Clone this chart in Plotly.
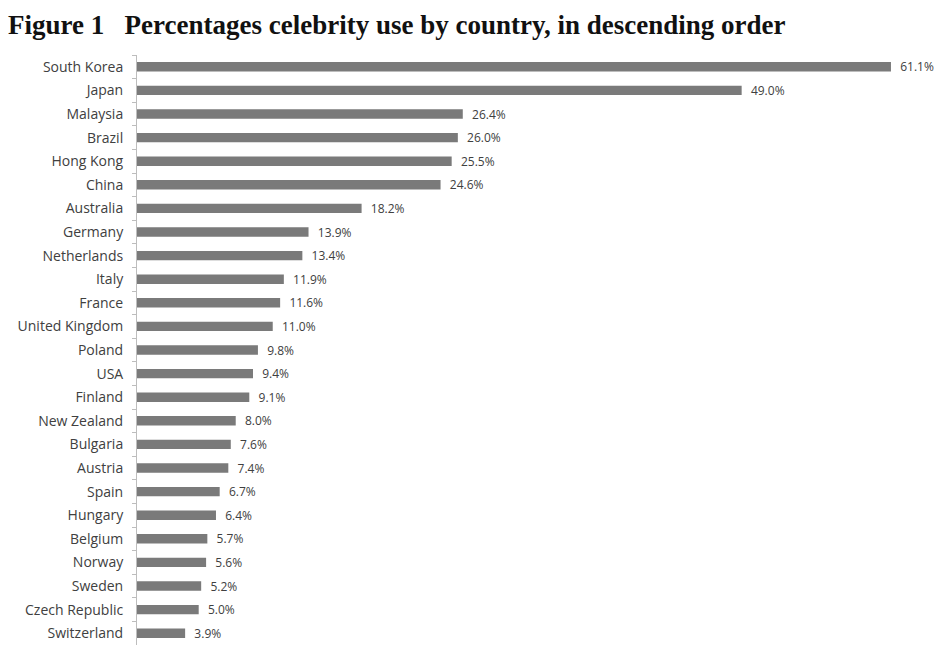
import plotly.graph_objects as go

countries = ["South Korea", "Japan", "Malaysia", "Brazil", "Hong Kong", "China", "Australia",
             "Germany", "Netherlands", "Italy", "France", "United Kingdom", "Poland", "USA",
             "Finland", "New Zealand", "Bulgaria", "Austria", "Spain", "Hungary", "Belgium",
             "Norway", "Sweden", "Czech Republic", "Switzerland"]
values = [61.1, 49.0, 26.4, 26.0, 25.5, 24.6, 18.2, 13.9, 13.4, 11.9, 11.6, 11.0, 9.8, 9.4,
          9.1, 8.0, 7.6, 7.4, 6.7, 6.4, 5.7, 5.6, 5.2, 5.0, 3.9]
labels = ["  %.1f%%" % v for v in values]

fig = go.Figure(go.Bar(
    x=values, y=countries, orientation="h",
    marker=dict(color="#7a7a7a", line=dict(width=0)),
    width=0.4,
    text=labels, textposition="outside", cliponaxis=False, constraintext="none",
    textfont=dict(family="Open Sans", size=12, color="#404040"),
    hoverinfo="skip",
))

fig.update_layout(
    width=947, height=645,
    margin=dict(l=137, r=0, t=55, b=0),
    paper_bgcolor="white", plot_bgcolor="white",
    showlegend=False,
    title=dict(
        text="Figure 1\u00a0\u00a0\u00a0Percentages celebrity use by country, in descending order",
        x=8/947, xanchor="left", xref="container",
        y=1-25/645, yanchor="middle", yref="container",
        font=dict(family="Liberation Serif", size=27, color="#111111", weight="bold"),
    ),
    xaxis=dict(range=[0, 810/12.34], visible=False, showgrid=False, zeroline=False),
    yaxis=dict(
        autorange="reversed", showgrid=False, zeroline=False,
        showline=True, linecolor="#bdbdbd", linewidth=1,
        ticks="outside", ticklen=4, tickcolor="#bdbdbd", tickson="boundaries",
        tickfont=dict(family="Open Sans", size=14, color="#404040"),
        ticklabelstandoff=10,
    ),
    bargap=0.6,
)

fig.write_html("out.html")
